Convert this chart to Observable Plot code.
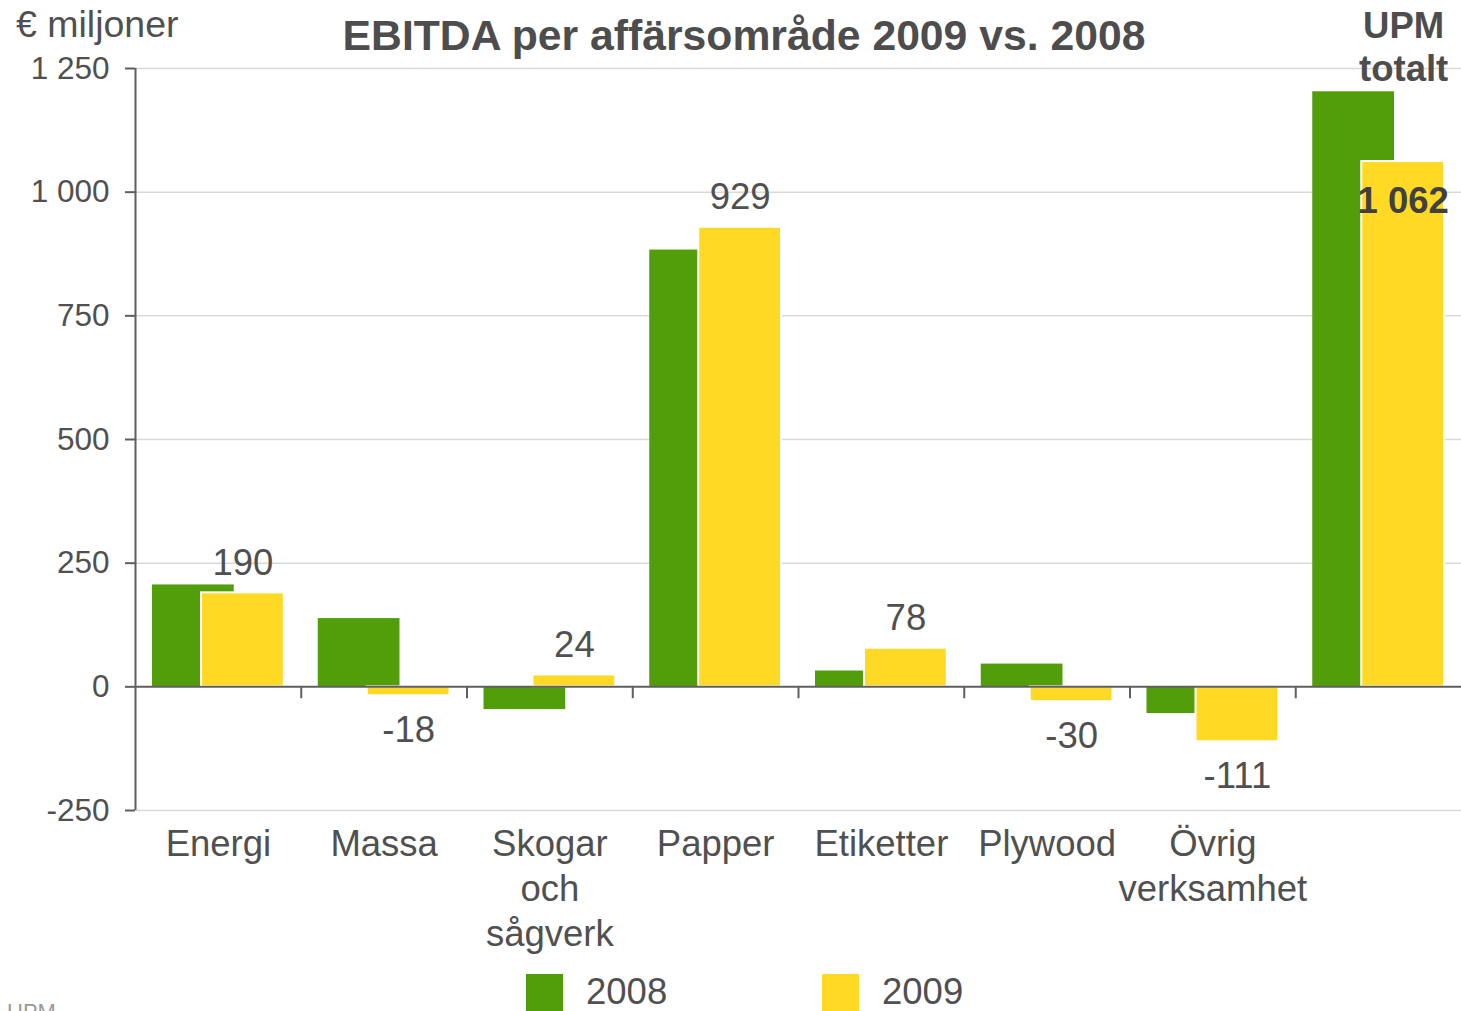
<!DOCTYPE html>
<html>
<head>
<meta charset="utf-8">
<script src="https://cdn.jsdelivr.net/npm/d3@7"></script>
<script src="https://cdn.jsdelivr.net/npm/@observablehq/plot@0.6"></script>
<style>
  html, body { margin: 0; padding: 0; background: #fff; }
  #wrap { position: relative; width: 1461px; height: 1011px; overflow: hidden; font-family: "Liberation Sans", Arial, sans-serif; color: #505050; }
  .abs { position: absolute; line-height: 1; white-space: nowrap; }
  #chart { position: absolute; left: 0; top: 0; }
  .sw { position: absolute; width: 37px; height: 37px; }
</style>
</head>
<body>
<div id="wrap">
  <div id="chart"></div>
  <div class="abs" id="ylabel" style="left:16px; top:6px; font-size:37.5px;"></div>
  <div class="abs" id="title" style="left:0; width:1488px; text-align:center; top:14px; font-size:42.7px; font-weight:bold; color:#4d4d4d;"></div>
  <div id="legend"></div>
  <div class="abs" id="source" style="left:7px; top:1001px; font-size:22px; color:#9a9a9a;"></div>
</div>
<script>
// ---- data ----
const categories = ["Energi", "Massa", "Skogar och sågverk", "Papper", "Etiketter", "Plywood", "Övrig verksamhet", "UPM totalt"];
const categoryLabels = ["Energi", "Massa", "Skogar\noch\nsågverk", "Papper", "Etiketter", "Plywood", "Övrig\nverksamhet", ""];
const topLabel = "UPM\ntotalt";
const values2008 = [206, 138, -46, 883, 32, 46, -54, 1203];
const values2009 = [190, -18, 24, 929, 78, -30, -111, 1062];
const seriesNames = ["2008", "2009"];
const yTicks = [-250, 0, 250, 500, 750, 1000, 1250];
const titleText = "EBITDA per affärsområde 2009 vs. 2008";
const yLabelText = "€ miljoner";
const sourceText = "UPM";

const green = "#529e0a";
const yellow = "#ffd924";
const textColor = "#505050";

const fmt = d3.formatLocale({decimal: ",", thousands: " ", grouping: [3], currency: ["", ""], minus: "-"}).format(",d");

const rows2008 = categories.map((c, i) => ({category: c, value: values2008[i]}));
const rows2009 = categories.map((c, i) => ({category: c, value: values2009[i], last: i === categories.length - 1}));
const labelRows = categories.map((c, i) => ({category: c, label: categoryLabels[i]}));

const W = 1461, H = 960, mL = 135, mR = 0, mT = 68, mB = 150;
const half = (W - mL - mR) / categories.length / 2;

const chart = Plot.plot({
  width: W, height: H,
  marginLeft: mL, marginRight: mR, marginTop: mT, marginBottom: mB,
  style: {fontFamily: "'Liberation Sans', Arial, sans-serif", color: textColor, background: "transparent", overflow: "visible"},
  x: {domain: categories, padding: 0, round: false, axis: null},
  y: {domain: [-250, 1250], axis: null},
  marks: [
    Plot.gridY(yTicks.filter(d => d !== 0), {stroke: "#d9d9d9", strokeOpacity: 1, strokeWidth: 1.5}),
    Plot.barY(rows2008, {x: "category", y: "value", fill: green, insetLeft: 17, insetRight: 67}),
    Plot.barY(rows2009, {x: "category", y: "value", fill: yellow, stroke: "#ffffff", strokeWidth: 2, insetLeft: 66, insetRight: 17}),
    Plot.ruleY([0], {stroke: "#5f5f5f", strokeWidth: 2}),
    Plot.ruleX(categories.slice(1), {x: d => d, y1: 0, y2: -24, dx: -half, stroke: "#5f5f5f", strokeWidth: 2}),
    Plot.ruleX([categories[0]], {y1: -250, y2: 1250, dx: -half, stroke: "#5f5f5f", strokeWidth: 2}),
    Plot.axisY(yTicks, {tickSize: 10, tickPadding: 16, tickFormat: fmt, fontSize: 31.5, stroke: "#5f5f5f", strokeWidth: 2, color: textColor, label: null}),
    Plot.text(rows2009.filter(d => !d.last && d.value >= 0), {x: "category", y: "value", text: d => fmt(d.value), dx: 24.5, dy: -18, lineAnchor: "bottom", fontSize: 36.5, fill: textColor}),
    Plot.text(rows2009.filter(d => !d.last && d.value < 0), {x: "category", y: "value", text: d => fmt(d.value), dx: 24.5, dy: 20, lineAnchor: "top", fontSize: 36.5, fill: textColor}),
    Plot.text(rows2009.filter(d => d.last), {x: "category", y: "value", text: d => fmt(d.value), dx: 24.5, dy: 26, lineAnchor: "top", fontSize: 36.5, fontWeight: "bold", fill: "#404040"}),
    Plot.text(labelRows, {x: "category", text: "label", frameAnchor: "bottom", lineAnchor: "top", dy: 14, fontSize: 36.5, lineHeight: 1.23, fill: textColor}),
    Plot.text([categories[categories.length - 1]], {x: d => d, text: () => topLabel, frameAnchor: "top", lineAnchor: "top", dy: -62, dx: 25, fontSize: 36.5, fontWeight: "bold", lineHeight: 1.2, fill: "#4d4d4d"})
  ]
});
document.getElementById("chart").appendChild(chart);

document.getElementById("title").textContent = titleText;
document.getElementById("ylabel").textContent = yLabelText;
document.getElementById("source").textContent = sourceText;

const legend = document.getElementById("legend");
const legendColors = [green, yellow];
const legendX = [526, 822];
seriesNames.forEach((name, i) => {
  const sw = document.createElement("div");
  sw.className = "sw";
  sw.style.left = legendX[i] + "px";
  sw.style.top = "974px";
  sw.style.background = legendColors[i];
  legend.appendChild(sw);
  const t = document.createElement("div");
  t.className = "abs";
  t.style.left = (legendX[i] + 60) + "px";
  t.style.top = "975px";
  t.style.fontSize = "36.5px";
  t.style.lineHeight = "0.95";
  t.textContent = name;
  legend.appendChild(t);
});
</script>
</body>
</html>
